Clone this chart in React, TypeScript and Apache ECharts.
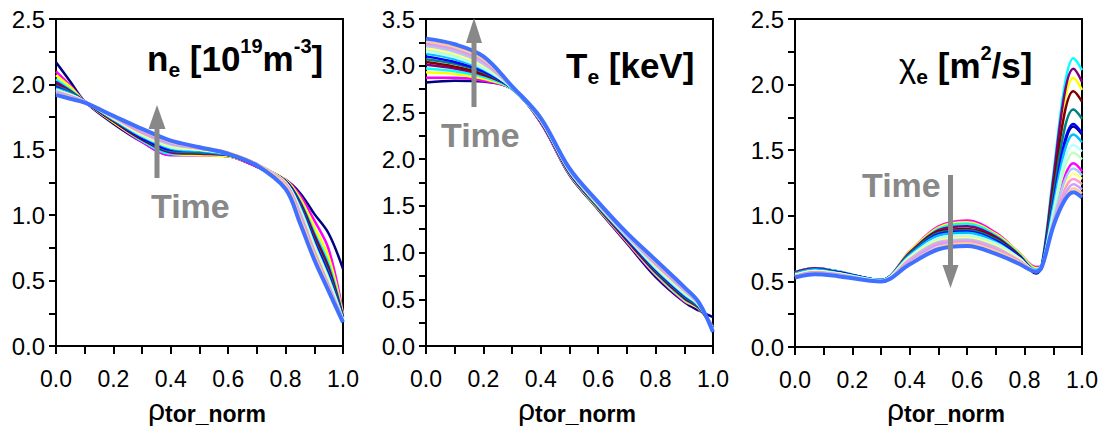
import React, { useEffect, useRef } from "react";
import * as echarts from "echarts";

const FONT = '"Liberation Sans", Arial, Helvetica, sans-serif';

// colours of the successive time slices (earliest first, last = thick royal blue)
const sliceColors = [
  "#000080", "#ff00ff", "#ffff00", "#00ffff", "#800080", "#800000", "#008080", "#0000ff",
  "#00c0ff", "#b8ffff", "#c0ffc0", "#ffff90", "#a8c8ff", "#ff9cc8", "#cca0ff", "#ffc898", "#4070ff",
];

// ---------- n_e panel ----------
const neRho = [0, 0.05, 0.1, 0.2, 0.3, 0.4, 0.5, 0.6, 0.7, 0.8, 0.85, 0.9, 0.95, 1.0];
const neProfiles = [
  [2.17, 2.02, 1.87, 1.70, 1.56, 1.46, 1.46, 1.45, 1.37, 1.27, 1.17, 1.01, 0.86, 0.59],
  [2.10, 1.99, 1.87, 1.71, 1.56, 1.46, 1.46, 1.45, 1.37, 1.27, 1.15, 0.96, 0.74, 0.25],
  [2.07, 1.98, 1.87, 1.71, 1.57, 1.47, 1.46, 1.45, 1.38, 1.27, 1.13, 0.91, 0.68, 0.24],
  [2.04, 1.96, 1.87, 1.72, 1.57, 1.47, 1.47, 1.46, 1.38, 1.26, 1.11, 0.87, 0.63, 0.23],
  [2.02, 1.95, 1.87, 1.72, 1.58, 1.48, 1.47, 1.46, 1.38, 1.26, 1.10, 0.85, 0.60, 0.22],
  [2.00, 1.94, 1.87, 1.72, 1.58, 1.49, 1.48, 1.46, 1.38, 1.26, 1.09, 0.83, 0.58, 0.22],
  [1.99, 1.94, 1.87, 1.73, 1.59, 1.49, 1.48, 1.46, 1.38, 1.26, 1.08, 0.81, 0.56, 0.21],
  [1.98, 1.93, 1.87, 1.73, 1.59, 1.50, 1.49, 1.46, 1.38, 1.26, 1.07, 0.80, 0.54, 0.21],
  [1.97, 1.93, 1.87, 1.73, 1.60, 1.51, 1.49, 1.46, 1.39, 1.25, 1.06, 0.78, 0.52, 0.21],
  [1.96, 1.92, 1.87, 1.74, 1.61, 1.52, 1.50, 1.47, 1.39, 1.25, 1.05, 0.77, 0.51, 0.20],
  [1.96, 1.92, 1.87, 1.74, 1.61, 1.52, 1.50, 1.47, 1.39, 1.25, 1.04, 0.76, 0.50, 0.20],
  [1.95, 1.92, 1.87, 1.74, 1.62, 1.53, 1.50, 1.47, 1.39, 1.25, 1.03, 0.75, 0.49, 0.20],
  [1.95, 1.91, 1.87, 1.75, 1.63, 1.54, 1.51, 1.47, 1.39, 1.24, 1.02, 0.73, 0.47, 0.20],
  [1.94, 1.91, 1.87, 1.75, 1.63, 1.55, 1.51, 1.47, 1.39, 1.24, 1.01, 0.72, 0.46, 0.19],
  [1.94, 1.91, 1.87, 1.75, 1.64, 1.55, 1.52, 1.47, 1.39, 1.24, 1.00, 0.71, 0.45, 0.19],
  [1.93, 1.90, 1.86, 1.76, 1.65, 1.56, 1.52, 1.48, 1.39, 1.23, 0.98, 0.70, 0.44, 0.19],
  [1.92, 1.89, 1.86, 1.76, 1.66, 1.57, 1.52, 1.47, 1.38, 1.20, 0.94, 0.66, 0.42, 0.18],
];

// ---------- T_e panel ----------
const teRho = [0, 0.1, 0.2, 0.3, 0.4, 0.5, 0.6, 0.7, 0.8, 0.9, 0.95, 1.0];
const teProfiles = [
  [2.82, 2.84, 2.83, 2.75, 2.39, 1.83, 1.46, 1.10, 0.74, 0.47, 0.38, 0.31],
  [2.87, 2.87, 2.84, 2.75, 2.39, 1.84, 1.47, 1.11, 0.76, 0.48, 0.40, 0.21],
  [2.93, 2.91, 2.86, 2.75, 2.40, 1.84, 1.47, 1.12, 0.77, 0.49, 0.40, 0.20],
  [2.97, 2.94, 2.88, 2.75, 2.40, 1.85, 1.48, 1.13, 0.78, 0.50, 0.41, 0.20],
  [3.01, 2.97, 2.90, 2.76, 2.40, 1.85, 1.48, 1.13, 0.79, 0.51, 0.41, 0.19],
  [3.04, 2.99, 2.91, 2.76, 2.40, 1.86, 1.49, 1.14, 0.80, 0.52, 0.42, 0.19],
  [3.07, 3.02, 2.93, 2.76, 2.41, 1.86, 1.49, 1.15, 0.81, 0.53, 0.42, 0.19],
  [3.10, 3.04, 2.94, 2.76, 2.41, 1.86, 1.50, 1.15, 0.82, 0.54, 0.43, 0.18],
  [3.13, 3.07, 2.96, 2.76, 2.41, 1.87, 1.50, 1.16, 0.83, 0.55, 0.43, 0.18],
  [3.15, 3.09, 2.97, 2.76, 2.41, 1.87, 1.51, 1.17, 0.84, 0.56, 0.44, 0.18],
  [3.17, 3.11, 2.99, 2.77, 2.42, 1.88, 1.51, 1.17, 0.85, 0.57, 0.44, 0.17],
  [3.19, 3.13, 3.00, 2.77, 2.42, 1.88, 1.51, 1.18, 0.86, 0.58, 0.45, 0.17],
  [3.21, 3.15, 3.02, 2.77, 2.42, 1.88, 1.52, 1.18, 0.87, 0.59, 0.45, 0.17],
  [3.23, 3.17, 3.04, 2.77, 2.43, 1.89, 1.52, 1.19, 0.88, 0.60, 0.46, 0.16],
  [3.24, 3.18, 3.05, 2.77, 2.43, 1.89, 1.52, 1.19, 0.89, 0.61, 0.46, 0.16],
  [3.26, 3.20, 3.07, 2.77, 2.43, 1.89, 1.53, 1.20, 0.90, 0.62, 0.46, 0.16],
  [3.29, 3.23, 3.10, 2.78, 2.44, 1.90, 1.54, 1.21, 0.92, 0.63, 0.47, 0.15],
];

// ---------- chi_e panel ----------
const chiRho = [0, 0.07, 0.15, 0.3, 0.4, 0.5, 0.6, 0.7, 0.78, 0.84, 0.86, 0.9, 0.94, 0.97, 1.0];
const chiProfiles = [
  [0.57, 0.60, 0.575, 0.51, 0.71, 0.86, 0.885, 0.82, 0.70, 0.56, 0.61, 1.09, 1.55, 1.68, 1.62],
  [0.57, 0.60, 0.575, 0.51, 0.73, 0.92, 0.965, 0.87, 0.72, 0.61, 0.62, 0.98, 1.30, 1.40, 1.34],
  [0.57, 0.60, 0.575, 0.51, 0.73, 0.91, 0.95, 0.86, 0.72, 0.60, 0.62, 1.25, 1.88, 2.05, 1.96],
  [0.57, 0.60, 0.575, 0.51, 0.72, 0.90, 0.94, 0.85, 0.71, 0.59, 0.63, 1.32, 2.00, 2.20, 2.11],
  [0.57, 0.60, 0.57, 0.51, 0.72, 0.89, 0.92, 0.84, 0.70, 0.58, 0.62, 1.28, 1.94, 2.12, 2.02],
  [0.56, 0.59, 0.57, 0.51, 0.71, 0.88, 0.90, 0.83, 0.70, 0.57, 0.61, 1.21, 1.79, 1.95, 1.87],
  [0.56, 0.59, 0.57, 0.51, 0.71, 0.87, 0.89, 0.82, 0.69, 0.57, 0.61, 1.15, 1.67, 1.81, 1.74],
  [0.56, 0.59, 0.57, 0.51, 0.70, 0.86, 0.88, 0.81, 0.69, 0.57, 0.61, 1.10, 1.57, 1.70, 1.63],
  [0.56, 0.59, 0.565, 0.51, 0.70, 0.85, 0.87, 0.80, 0.68, 0.57, 0.61, 1.07, 1.50, 1.62, 1.56],
  [0.55, 0.58, 0.56, 0.51, 0.69, 0.83, 0.85, 0.79, 0.68, 0.58, 0.61, 1.03, 1.43, 1.54, 1.49],
  [0.55, 0.58, 0.56, 0.50, 0.68, 0.82, 0.84, 0.78, 0.67, 0.58, 0.61, 1.00, 1.37, 1.48, 1.43],
  [0.55, 0.58, 0.56, 0.50, 0.68, 0.81, 0.83, 0.77, 0.67, 0.58, 0.61, 0.95, 1.23, 1.32, 1.28],
  [0.54, 0.57, 0.555, 0.50, 0.67, 0.80, 0.82, 0.76, 0.66, 0.58, 0.61, 0.96, 1.27, 1.36, 1.31],
  [0.54, 0.57, 0.55, 0.50, 0.66, 0.79, 0.81, 0.75, 0.66, 0.58, 0.61, 0.94, 1.20, 1.28, 1.24],
  [0.54, 0.57, 0.55, 0.50, 0.65, 0.78, 0.80, 0.74, 0.65, 0.58, 0.61, 0.93, 1.16, 1.24, 1.20],
  [0.53, 0.56, 0.545, 0.50, 0.64, 0.76, 0.79, 0.73, 0.65, 0.58, 0.61, 0.92, 1.13, 1.21, 1.17],
  [0.53, 0.555, 0.54, 0.50, 0.63, 0.745, 0.77, 0.71, 0.635, 0.575, 0.61, 0.92, 1.12, 1.18, 1.14],
];

const yMaxes = [2.5, 3.5, 2.5];
const gridLefts = [56, 426, 795];

function buildOption() {
  const panels = [
    { rho: neRho, rows: neProfiles },
    { rho: teRho, rows: teProfiles },
    { rho: chiRho, rows: chiProfiles },
  ];
  const grid = gridLefts.map((left, i) => ({
    left,
    top: 19,
    width: 287,
    height: i === 2 ? 328 : 327,
    show: true,
    borderColor: "#000",
    borderWidth: 2,
    backgroundColor: "transparent",
  }));
  const xAxis = gridLefts.map((_, i) => ({
    type: "value",
    gridIndex: i,
    min: 0,
    max: 1,
    interval: 0.2,
    axisLine: { show: true, lineStyle: { color: "#000", width: 2 } },
    axisTick: { show: true, length: 8, lineStyle: { color: "#000", width: 2 } },
    minorTick: { show: true, splitNumber: 2, length: 8, lineStyle: { color: "#000", width: 2 } },
    splitLine: { show: false },
    minorSplitLine: { show: false },
    axisLabel: {
      fontSize: 23,
      fontFamily: FONT,
      color: "#000",
      margin: 21,
      formatter: (v: number) => v.toFixed(1),
    },
  }));
  const yAxis = yMaxes.map((max, i) => ({
    type: "value",
    gridIndex: i,
    min: 0,
    max,
    interval: 0.5,
    axisLine: { show: true, lineStyle: { color: "#000", width: 2 } },
    axisTick: { show: true, length: 7, lineStyle: { color: "#000", width: 2 } },
    minorTick: { show: true, splitNumber: 2, length: 7, lineStyle: { color: "#000", width: 2 } },
    splitLine: { show: false },
    minorSplitLine: { show: false },
    axisLabel: {
      fontSize: 24,
      fontFamily: FONT,
      color: "#000",
      margin: 11,
      formatter: (v: number) => v.toFixed(1),
    },
  }));
  const series: any[] = [];
  panels.forEach((p, pi) => {
    p.rows.forEach((row, si) => {
      const last = si === p.rows.length - 1;
      series.push({
        type: "line",
        xAxisIndex: pi,
        yAxisIndex: pi,
        data: p.rho.map((x, j) => [x, row[j]]),
        showSymbol: false,
        smooth: 0.35,
        z: 2 + si * 0.01,
        lineStyle: { color: sliceColors[si], width: last ? 4 : 2.5 },
      });
    });
  });

  const mainRich = {
    m: { font: `bold 35px ${FONT}`, lineHeight: 44, fill: "#000" },
    s: { font: `bold 21px ${FONT}`, lineHeight: 24, verticalAlign: "bottom", fill: "#000" },
    p: { font: `bold 20px ${FONT}`, lineHeight: 33, verticalAlign: "top", fill: "#000" },
    c: { font: `normal 33px ${FONT}`, lineHeight: 44, fill: "#000" },
  };
  const axisRich = {
    r: { font: `normal 30px ${FONT}`, lineHeight: 32, fill: "#000" },
    s: { font: `bold 23px ${FONT}`, lineHeight: 24, verticalAlign: "bottom", fill: "#000" },
  };

  const titleText = (text: string, x: number, y: number) => ({
    type: "text",
    x,
    y,
    z: 100,
    style: { text, rich: mainRich, align: "left", verticalAlign: "top", font: `bold 35px ${FONT}` },
  });
  const axisName = (x: number) => ({
    type: "text",
    x,
    y: 393,
    z: 100,
    style: { text: "{r|ρ}{s|tor_norm}", rich: axisRich, align: "left", verticalAlign: "top", font: `bold 23px ${FONT}` },
  });
  const timeText = (x: number, baseline: number) => ({
    type: "text",
    x,
    y: baseline - 11.8,
    z: 100,
    style: { text: "Time", font: `bold 34px ${FONT}`, fill: "#888888", align: "left", verticalAlign: "middle" },
  });
  const arrow = (pts: number[][]) => ({
    type: "polygon",
    z: 100,
    shape: { points: pts },
    style: { fill: "#888888" },
  });

  const graphic = [
    titleText("{m|n}{s|e}{m| [10}{p|19}{m|m}{p|-3}{m|]}", 147, 36),
    titleText("{m|T}{s|e}{m| [keV]}", 566, 43),
    titleText("{c|χ}{s|e}{m| [m}{p|2}{m|/s]}", 899, 43),
    axisName(148),
    axisName(518),
    axisName(887),
    timeText(151, 218),
    timeText(441, 147),
    timeText(862, 197),
    arrow([[154.5, 178], [154.5, 129], [148.5, 129], [157, 105], [165.5, 129], [159.5, 129], [159.5, 178]]),
    arrow([[471.5, 107], [471.5, 43], [466, 43], [474, 18], [482, 43], [476.5, 43], [476.5, 107]]),
    arrow([[948, 175], [948, 265], [942.5, 265], [950.5, 288], [958.5, 265], [953, 265], [953, 175]]),
  ];

  return {
    animation: false,
    backgroundColor: "#ffffff",
    grid,
    xAxis,
    yAxis,
    series,
    graphic,
  };
}

export default function App() {
  const ref = useRef<HTMLDivElement>(null);
  useEffect(() => {
    document.body.style.margin = "0";
    const chart = echarts.init(ref.current!, undefined, { renderer: "svg" });
    chart.setOption(buildOption() as any);
    return () => chart.dispose();
  }, []);
  return <div ref={ref} style={{ width: 1110, height: 432 }} />;
}
